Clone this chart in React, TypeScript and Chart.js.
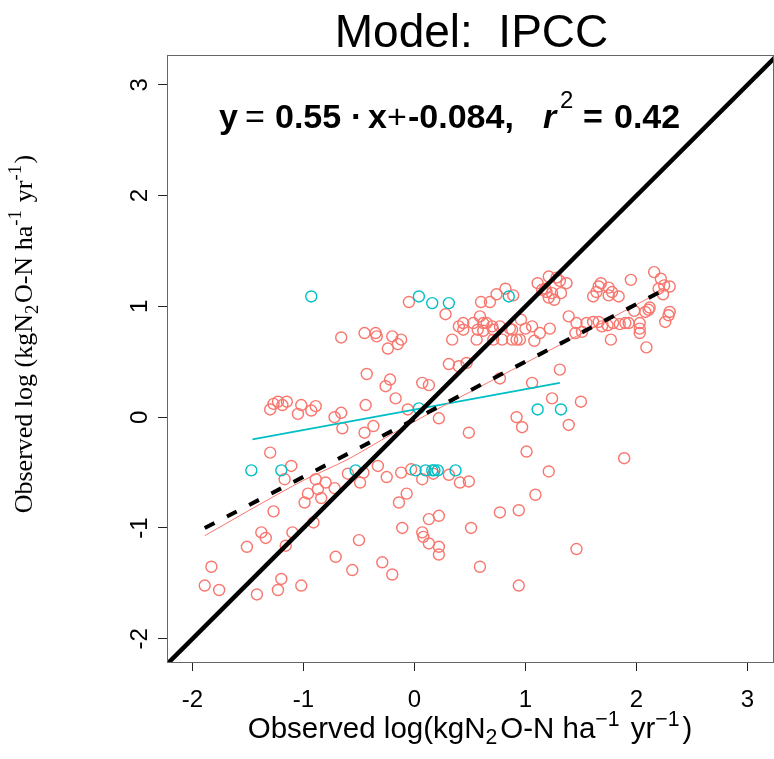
import React, { useEffect, useRef } from "react";
import { Chart, registerables } from "chart.js";

Chart.register(...registerables);

const W = 774;
const H = 759;

const TICKS = [-2, -1, 0, 1, 2, 3];
const X_MIN = -2.23;
const X_MAX = 3.24;
const Y_MIN = -2.21;
const Y_MAX = 3.27;

const TITLE = "Model:  IPCC";

// red group observations
const RED_X = [
  2.16, 2.22, 1.95, 2.30, 2.25, 2.20, 2.24, 1.68, 1.75, 1.78, 1.64, 1.61, 1.84, 1.75, 1.66,
  2.11, 2.08, 1.98, 2.30, 2.29, 2.26, 2.03, 2.03, 2.03, 2.09, 1.77, 1.39, 1.46, 1.55, 1.61,
  1.66, 1.69, 1.74, 1.79, 1.85, 1.90, 1.93, 1.45, 1.51, 1.31, 1.11, 1.21, 1.28, 1.31, 1.37,
  1.15, 1.19, 1.24, 1.21, 1.26, 1.32, 1.18, 0.82, 0.74, 0.89, 0.60, 0.68, 0.59, 0.53, 0.62,
  0.44, 0.44, 0.57, 0.70, 0.71, 0.77, 0.86, 0.88, 0.96, 1.00, 1.06, 1.08, 1.13, 1.22, 0.56,
  0.71, 0.79, 0.88, 0.92, 0.95, 0.47, 0.40, 0.65, 0.34, 0.31, 0.40, -0.05, 0.28, -0.66, -0.45,
  -0.35, -0.34, -0.20, -0.12, -0.15, -0.24, -0.43, -0.22, -0.26, 0.07, 0.13, -0.17, -0.44, -0.06, 0.22,
  0.49, -1.30, -1.27, -1.23, -1.19, -1.15, -1.05, -1.02, -0.93, -0.89, -0.72, -0.66, -0.65, -0.45, -0.37,
  -1.30, 0.77, 1.06, 1.24, 1.50, 0.92, 0.97, 1.39, 1.01, 1.89, -1.11, -1.17, -0.89, -0.80, -0.96,
  -0.87, -0.84, -0.72, -0.99, -1.27, -0.91, -1.38, -1.34, -1.10, -1.16, -1.51, -1.83, -1.89, -1.76, -1.42,
  -1.20, -1.23, -1.02, -0.71, -0.56, -0.50, -0.60, -0.46, -0.33, -0.25, -0.49, -0.12, -0.03, 0.07, 0.17,
  0.31, 0.41, 0.49, -0.14, -0.07, -0.11, 0.13, 0.22, 0.07, 0.08, 0.13, 0.22, 0.22, 0.51, 0.77,
  0.94, -0.29, -0.20, 0.59, 0.94, 1.21, 1.09, 1.46, 2.12, 0.62,
];
const RED_Y = [
  1.31, 1.25, 1.24, 1.18, 1.19, 1.16, 1.11, 1.21, 1.17, 1.13, 1.13, 1.09, 1.09, 1.10, 1.18,
  0.97, 0.95, 0.96, 0.95, 0.92, 0.86, 0.85, 0.80, 0.76, 0.63, 0.70, 0.91, 0.85, 0.85, 0.86,
  0.86, 0.82, 0.83, 0.85, 0.84, 0.85, 0.85, 0.76, 0.77, 0.43, 1.21, 1.27, 1.26, 1.23, 1.21,
  1.15, 1.13, 1.12, 1.08, 1.06, 1.12, 1.16, 1.16, 1.11, 1.10, 1.04, 1.04, 0.91, 0.85, 0.85,
  0.85, 0.79, 0.79, 0.82, 0.79, 0.82, 0.80, 0.79, 0.88, 0.80, 0.82, 0.69, 0.76, 0.80, 0.70,
  0.70, 0.70, 0.70, 0.70, 0.70, 0.49, 0.82, 0.85, 0.70, 0.48, 0.46, 1.04, 0.93, 0.72, 0.76,
  0.76, 0.73, 0.73, 0.70, 0.66, 0.62, 0.39, 0.34, 0.28, 0.31, 0.29, 0.17, 0.11, 0.07, -0.01,
  -0.14, 0.07, 0.12, 0.14, 0.11, 0.14, 0.03, 0.11, 0.06, 0.10, 0.00, 0.04, -0.10, -0.14, -0.08,
  -0.32, 0.35, 0.31, 0.17, 0.14, 0.00, -0.09, -0.07, -0.31, -0.37, -0.44, -0.56, -0.56, -0.59, -0.69,
  -0.65, -0.73, -0.64, -0.77, -0.85, -0.95, -1.04, -1.09, -1.04, -1.16, -1.17, -1.35, -1.52, -1.56, -1.60,
  -1.46, -1.56, -1.52, -1.26, -1.38, -1.11, -0.51, -0.50, -0.44, -0.54, -0.59, -0.50, -0.47, -0.56, -0.51,
  -0.52, -0.59, -0.58, -0.77, -0.69, -1.00, -0.92, -0.89, -1.04, -1.08, -1.14, -1.17, -1.24, -1.00, -0.86,
  -0.84, -1.31, -1.42, -1.35, -1.52, -0.49, -0.70, -1.19, 0.99, 0.78,
];

// cyan group observations
const CYAN_X = [-0.93, 0.04, 0.16, 0.31, 0.85, 0.04, 1.11, 1.32, -1.47, -1.20, -0.53, 0.01, 0.10, 0.16, 0.18, 0.21, 0.37];
const CYAN_Y = [1.09, 1.09, 1.03, 1.03, 1.09, 0.08, 0.07, 0.07, -0.48, -0.48, -0.48, -0.48, -0.48, -0.48, -0.48, -0.48, -0.48];

// fitted lines
const RED_FIT_X = [-1.89, -1.4, -1.0, -0.6, -0.2, 0.2, 0.6, 1.0, 1.4, 1.8, 2.25];
const RED_FIT_Y = [-1.07, -0.79, -0.57, -0.38, -0.15, 0.07, 0.28, 0.49, 0.70, 0.91, 1.15];
const CYAN_FIT_X = [-1.46, 1.31];
const CYAN_FIT_Y = [-0.2, 0.31];
const LM_X = [-1.89, 2.25];
const LM_Y = [-1.0, 1.15];
const ONE_X = [-2.3, 3.3];
const ONE_Y = [-2.3, 3.3];

const RED = "#F8766D";
const CYAN = "#00BFC4";
const SANS = '"Liberation Sans", Arial, Helvetica, sans-serif';
const SERIF = '"Liberation Serif", "Times New Roman", serif';

const pts = (xs: number[], ys: number[]) => xs.map((x, i) => ({ x, y: ys[i] }));

type Part = { t: string; sub?: boolean; sup?: boolean };

function drawRich(
  ctx: CanvasRenderingContext2D,
  parts: Part[],
  x: number,
  y: number,
  size: number,
  family: string,
  align: "left" | "center",
  gapEm = 0.06
) {
  const small = size * 0.72;
  const gap = size * gapEm;
  let total = 0;
  for (const p of parts) {
    const s = p.sub || p.sup ? small : size;
    ctx.font = `${s}px ${family}`;
    total += ctx.measureText(p.t).width + (p.sub || p.sup ? gap : 0);
  }
  let cx = align === "center" ? x - total / 2 : x;
  ctx.textAlign = "left";
  ctx.textBaseline = "alphabetic";
  for (const p of parts) {
    const s = p.sub || p.sup ? small : size;
    ctx.font = `${s}px ${family}`;
    const dy = p.sub ? size * 0.22 : p.sup ? -size * 0.42 : 0;
    ctx.fillText(p.t, cx, y + dy);
    cx += ctx.measureText(p.t).width + (p.sub || p.sup ? gap : 0);
  }
}

const decor = {
  id: "decor",
  afterDraw(chart: any) {
    const { ctx, chartArea: a, scales } = chart;
    const xs = scales.x;
    const ys = scales.y;
    ctx.save();
    // plot box
    ctx.strokeStyle = "#666";
    ctx.lineWidth = 1;
    ctx.strokeRect(a.left + 0.5, a.top + 0.5, a.right - a.left - 1, a.bottom - a.top);

    ctx.fillStyle = "#000";
    // x tick labels
    ctx.font = `24px ${SANS}`;
    ctx.textAlign = "center";
    ctx.textBaseline = "alphabetic";
    for (const v of TICKS) {
      ctx.fillText(String(v), xs.getPixelForValue(v), 707);
    }
    // y tick labels (rotated, as in R)
    for (const v of TICKS) {
      ctx.save();
      ctx.translate(147, ys.getPixelForValue(v));
      ctx.rotate(-Math.PI / 2);
      ctx.textAlign = "center";
      ctx.fillText(String(v), 0, 0);
      ctx.restore();
    }

    // title
    ctx.font = `46px ${SANS}`;
    ctx.textAlign = "center";
    ctx.fillText(TITLE, (a.left + a.right) / 2 + 1, 47);

    // equation
    const base = 128;
    const sz = 34;
    ctx.textAlign = "left";
    const put = (t: string, x: number, weight: string, style = "", s = sz, dy = 0) => {
      ctx.font = `${style} ${weight} ${s}px ${SANS}`;
      ctx.fillText(t, x, base + dy);
    };
    put("y", 219, "bold");
    put("=", 245, "normal");
    put("0.55", 275, "bold");
    put("\u00B7", 351, "bold");
    put("x", 368, "bold");
    put("+", 387, "normal");
    put("-0.084,", 408, "bold");
    put("r", 543, "bold", "italic");
    put("2", 560, "normal", "", 24, -20);
    put("=", 583, "bold");
    put("0.42", 614, "bold");

    // x axis title
    drawRich(
      ctx,
      [
        { t: "Observed log(kgN" },
        { t: "2", sub: true },
        { t: "O-N ha" },
        { t: "\u22121", sup: true },
        { t: " yr" },
        { t: "\u22121", sup: true },
        { t: ")" },
      ],
      470,
      738,
      29.5,
      SANS,
      "center",
      0.1
    );

    // y axis title (serif, rotated)
    ctx.save();
    ctx.translate(32, 334);
    ctx.rotate(-Math.PI / 2);
    drawRich(
      ctx,
      [
        { t: "Observed log (kgN" },
        { t: "2", sub: true },
        { t: "O-N ha" },
        { t: "-1", sup: true },
        { t: " yr" },
        { t: "-1", sup: true },
        { t: ")" },
      ],
      0,
      0,
      26,
      SERIF,
      "center"
    );
    ctx.restore();
    ctx.restore();
  },
};

function axis(min: number, max: number, isX: boolean) {
  return {
    type: "linear" as const,
    min,
    max,
    afterBuildTicks: (s: any) => {
      s.ticks = TICKS.map((v) => ({ value: v }));
    },
    afterFit: (s: any) => {
      if (isX) s.height = 97;
      else s.width = 167;
    },
    ticks: { display: false },
    grid: {
      display: true,
      drawOnChartArea: false,
      drawTicks: true,
      tickLength: 9,
      color: "#222",
      lineWidth: 1,
    },
    border: { display: false },
  };
}

export default function App() {
  const ref = useRef<HTMLCanvasElement | null>(null);

  useEffect(() => {
    if (!ref.current) return;
    const chart = new Chart(ref.current, {
      type: "scatter",
      data: {
        datasets: [
          {
            label: "1:1",
            data: pts(ONE_X, ONE_Y),
            showLine: true,
            borderColor: "#000",
            borderWidth: 4.5,
            pointRadius: 0,
          },
          {
            label: "lm",
            data: pts(LM_X, LM_Y),
            showLine: true,
            borderColor: "#000",
            borderWidth: 4,
            borderDash: [11, 14],
            pointRadius: 0,
          },
          {
            label: "red fit",
            data: pts(RED_FIT_X, RED_FIT_Y),
            showLine: true,
            borderColor: RED,
            borderWidth: 1,
            pointRadius: 0,
            tension: 0.3,
          },
          {
            label: "cyan fit",
            data: pts(CYAN_FIT_X, CYAN_FIT_Y),
            showLine: true,
            borderColor: CYAN,
            borderWidth: 1.8,
            pointRadius: 0,
          },
          {
            label: "cyan",
            data: pts(CYAN_X, CYAN_Y),
            showLine: false,
            pointRadius: 5.5,
            pointBorderWidth: 1.4,
            borderColor: CYAN,
            backgroundColor: "rgba(0,0,0,0)",
          },
          {
            label: "red",
            data: pts(RED_X, RED_Y),
            showLine: false,
            pointRadius: 5.5,
            pointBorderWidth: 1.4,
            borderColor: RED,
            backgroundColor: "rgba(0,0,0,0)",
          },
        ],
      },
      options: {
        responsive: false,
        animation: false,
        devicePixelRatio: 1,
        layout: { autoPadding: false, padding: { top: 55, right: 0, bottom: 0, left: 0 } },
        scales: {
          x: axis(X_MIN, X_MAX, true),
          y: axis(Y_MIN, Y_MAX, false),
        },
        plugins: {
          legend: { display: false },
          tooltip: { enabled: false },
          title: { display: false },
        },
      },
      plugins: [decor],
    });
    return () => chart.destroy();
  }, []);

  return (
    <div style={{ position: "absolute", left: 0, top: 0, width: W, height: H, background: "#fff" }}>
      <canvas ref={ref} width={W} height={H} style={{ display: "block" }} />
    </div>
  );
}
